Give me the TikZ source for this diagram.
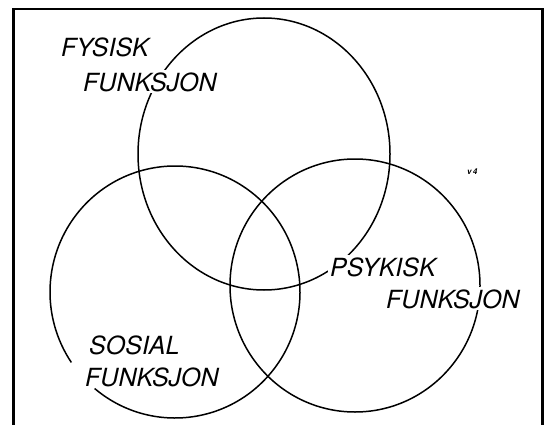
\documentclass[tikz,border=0pt]{standalone}
\usepackage{fontspec}
\setmainfont{TeX Gyre Heros}
\begin{document}
\begin{tikzpicture}[x=1pt,y=1pt,
  ring/.style={line width=1.5pt, black},
  frame/.style={line width=2.4pt, black},
  lbl/.style={font=\fontsize{25}{25}\selectfont\itshape, anchor=base west, inner sep=2pt, fill=white},
  lblnf/.style={font=\fontsize{25}{25}\selectfont\itshape, anchor=base west, inner sep=2pt}
]
\useasboundingbox (0,0) rectangle (551,424);
% frame (open at bottom)
\coordinate (fbl) at (13.5,-5);
\coordinate (ftl) at (13.5,415);
\coordinate (ftr) at (542.5,415);
\coordinate (fbr) at (542.5,-5);
\begin{scope}
\clip (0,0) rectangle (551,424);
\draw[frame] (fbl) -- (ftl) -- (ftr) -- (fbr);
\end{scope}
% circles
\coordinate (cF) at (264,270);
\coordinate (cS) at (175,132);
\coordinate (cP) at (355,138.5);
\draw[ring] (cF) ellipse [x radius=126, y radius=136];
\draw[ring] (cP) ellipse [x radius=125, y radius=126.5];
\draw[ring] (cS) ++(230:125 and 126) arc [start angle=230, end angle=574, x radius=125, y radius=126];
% labels
\node[lbl] (f1) at (59,367) {FYSISK};
\node[lbl] (f2) at (81,333) {FUNKSJON};
\node[lbl] (p1) at (328,148) {PSYKISK};
\node[lbl] (p2) at (384,116) {FUNKSJON};
\node[lblnf] (s1) at (87,70) {SOSIAL};
\node[lblnf] (s2) at (83,38) {FUNKSJON};
\node[font=\fontsize{8}{8}\selectfont\bfseries\itshape, anchor=base west, inner sep=0pt] (mk) at (467,250) {v\,4};
\end{tikzpicture}
\end{document}
